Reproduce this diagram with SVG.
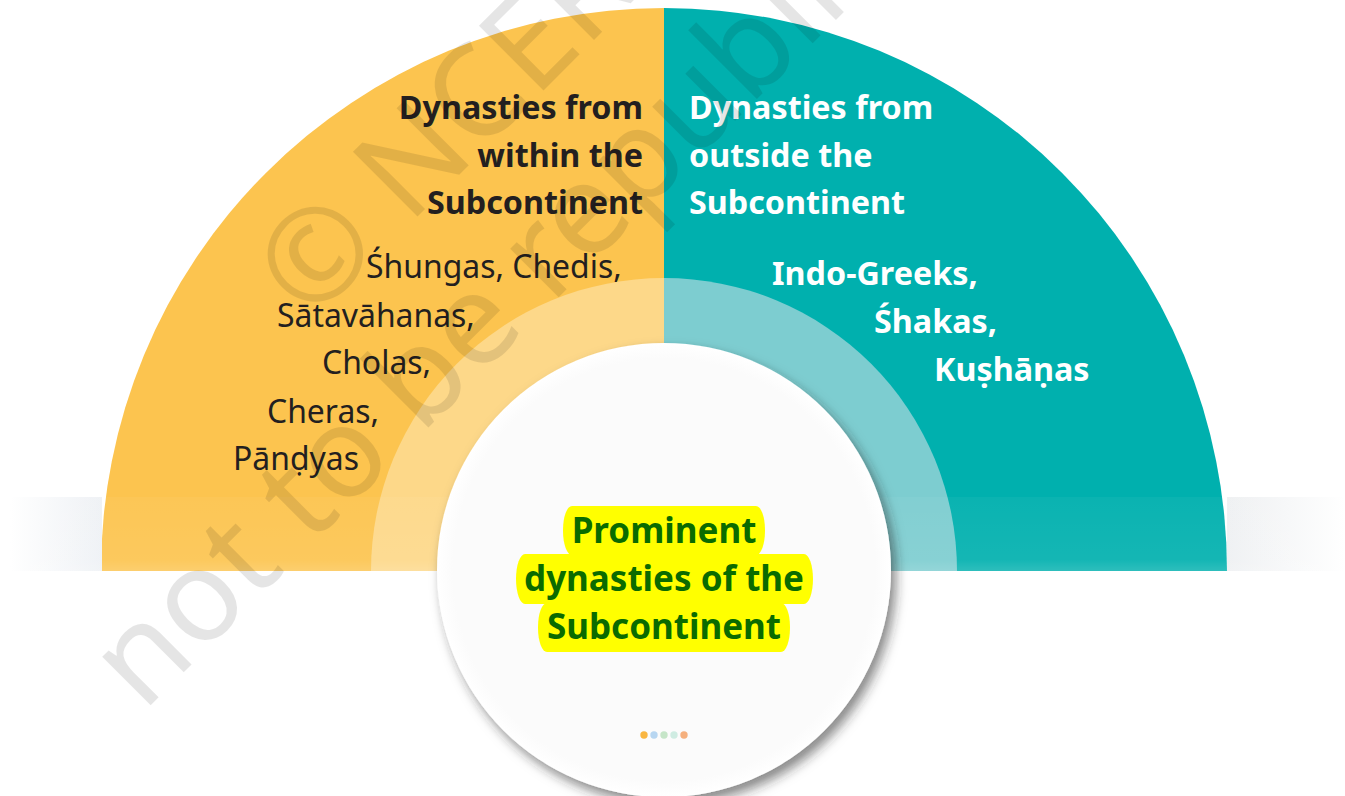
<svg xmlns="http://www.w3.org/2000/svg" width="1345" height="796" viewBox="0 0 1345 796">
  <defs>
    <style>
      .head { font-family: "Noto Sans", "Open Sans", sans-serif; font-weight: 700; font-size: 32.3px; }
      .item { font-family: "Noto Sans", "Open Sans", sans-serif; font-weight: 400; font-size: 31.9px; fill: #231f20; }
      .itemb { font-family: "Noto Sans", "Open Sans", sans-serif; font-weight: 700; font-size: 32.3px; fill: #ffffff; }
      .title { font-family: "Noto Sans", "Open Sans", sans-serif; font-weight: 700; font-size: 35px; fill: #0a6b00; }
      .hl { fill: #ffff00; }
      .wm { font-family: "Noto Sans", "Open Sans", sans-serif; font-weight: 400; font-size: 128px; fill: #000000; fill-opacity: 0.1; }
    </style>
    <filter id="shadow" x="-20%" y="-20%" width="150%" height="150%">
      <feDropShadow dx="5" dy="7" stdDeviation="6" flood-color="#2a2a2a" flood-opacity="0.55"/>
    </filter>
    <linearGradient id="bandL" x1="0" y1="0" x2="1" y2="0">
      <stop offset="0" stop-color="#ffffff"/>
      <stop offset="1" stop-color="#eef1f5"/>
    </linearGradient>
    <linearGradient id="bandR" x1="0" y1="0" x2="1" y2="0">
      <stop offset="0" stop-color="#eef0f2"/>
      <stop offset="1" stop-color="#ffffff"/>
    </linearGradient>
    <linearGradient id="bandV" x1="0" y1="0" x2="0" y2="1">
      <stop offset="0" stop-color="#ffffff" stop-opacity="0.04"/>
      <stop offset="0.85" stop-color="#ffffff" stop-opacity="0.08"/>
      <stop offset="1" stop-color="#ffffff" stop-opacity="0.18"/>
    </linearGradient>
    <radialGradient id="disc" cx="0.5" cy="0.5" r="0.5">
      <stop offset="0.93" stop-color="#fbfbfb"/>
      <stop offset="1" stop-color="#ffffff"/>
    </radialGradient>
  </defs>

  <rect x="0" y="0" width="1345" height="796" fill="#ffffff"/>

  <g id="segment-within">
    <path d="M664,571 L101,571 A563,563 0 0 1 664,8 Z" fill="#fcc44f"/>
    <path d="M664,571 L371,571 A293,293 0 0 1 664,278 Z" fill="#fdd889"/>
  </g>
  <g id="segment-outside">
    <path d="M664,571 L664,8 A563,563 0 0 1 1227,571 Z" fill="#00b0ae"/>
    <path d="M664,571 L664,278 A293,293 0 0 1 957,571 Z" fill="#7dcdd0"/>
  </g>

  <g id="band">
    <rect x="10" y="497" width="92" height="74" fill="url(#bandL)"/>
    <rect x="1227" y="497" width="118" height="74" fill="url(#bandR)"/>
    <rect x="10" y="497" width="1335" height="74" fill="url(#bandV)"/>
  </g>

  <g id="label-within">
    <text class="head" fill="#231f20" text-anchor="end" x="643" y="119">Dynasties from</text>
    <text class="head" fill="#231f20" text-anchor="end" x="643" y="167">within the</text>
    <text class="head" fill="#231f20" text-anchor="end" x="643" y="214">Subcontinent</text>
    <text class="item" x="366" y="278">Śhungas, Chedis,</text>
    <text class="item" x="277" y="327">Sātavāhanas,</text>
    <text class="item" x="322" y="374">Cholas,</text>
    <text class="item" x="267" y="423">Cheras,</text>
    <text class="item" x="233" y="470">Pānḍyas</text>
  </g>

  <g id="label-outside">
    <text class="head" fill="#ffffff" x="689" y="119">Dynasties from</text>
    <text class="head" fill="#ffffff" x="689" y="167">outside the</text>
    <text class="head" fill="#ffffff" x="689" y="214">Subcontinent</text>
    <text class="itemb" x="772" y="285">Indo-Greeks,</text>
    <text class="itemb" x="874" y="333">Śhakas,</text>
    <text class="itemb" x="934" y="381">Kuṣhāṇas</text>
  </g>

  <g id="centre-node">
    <circle cx="664" cy="570" r="227" fill="url(#disc)" filter="url(#shadow)"/>
    <rect class="hl" x="563" y="506" width="202" height="49" rx="9" ry="24"/>
    <rect class="hl" x="516" y="554" width="297" height="50" rx="9" ry="25"/>
    <rect class="hl" x="538" y="603" width="252" height="49" rx="9" ry="24"/>
    <text class="title" text-anchor="middle" x="664" y="543">Prominent</text>
    <text class="title" text-anchor="middle" x="664" y="591">dynasties of the</text>
    <text class="title" text-anchor="middle" x="664" y="639">Subcontinent</text>
    <circle cx="644" cy="735" r="3.7" fill="#f9b641"/>
    <circle cx="654" cy="735" r="3.7" fill="#b7d6f1"/>
    <circle cx="664" cy="735" r="3.7" fill="#c6e5c8"/>
    <circle cx="674" cy="735" r="3.7" fill="#cfece2"/>
    <circle cx="684" cy="735" r="3.7" fill="#f5b07e"/>
  </g>

  <g id="watermark">
    <text class="wm" transform="translate(310,324) rotate(-45)">© NCERT</text>
    <text class="wm" transform="translate(143,713) rotate(-45)">not to be republished</text>
  </g>
</svg>
